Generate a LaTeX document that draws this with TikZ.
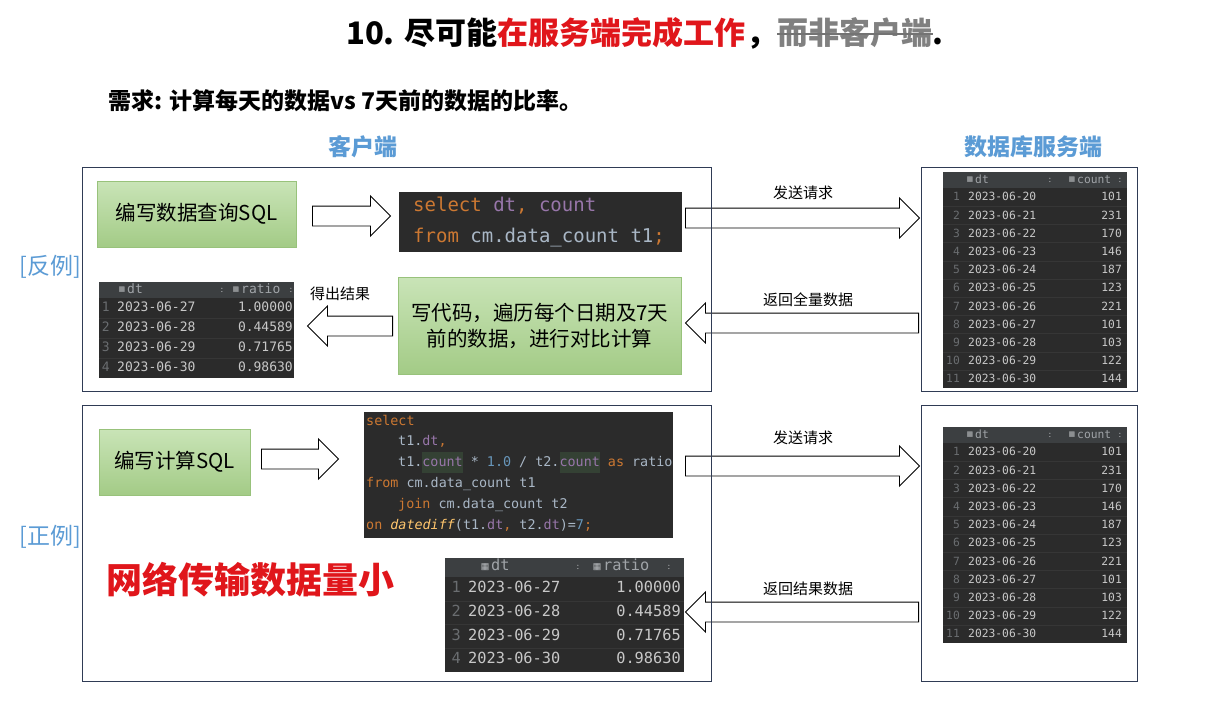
\documentclass[tikz,border=0pt]{standalone}
\usepackage{fontspec}
\setmainfont{Noto Sans CJK SC}
\newfontfamily\codefont{DejaVu Sans Mono}
\newfontfamily\iconfont{DejaVu Sans}
\usetikzlibrary{positioning, shapes.arrows}

\definecolor{frameNavy}{HTML}{2F3B55}
\definecolor{tagBlue}{HTML}{5B9BD5}
\definecolor{leafTop}{HTML}{C9E4B7}
\definecolor{leafBot}{HTML}{A3CB86}
\definecolor{leafEdge}{HTML}{98C27B}
\definecolor{alertRed}{HTML}{E0161B}
\definecolor{ideBg}{HTML}{2B2B2B}
\definecolor{ideHead}{HTML}{3C3F41}
\definecolor{ideLine}{HTML}{363636}
\definecolor{ideKey}{HTML}{CC7832}
\definecolor{ideField}{HTML}{9876AA}
\definecolor{ideText}{HTML}{A9B7C6}
\definecolor{ideNum}{HTML}{6897BB}
\definecolor{ideFunc}{HTML}{FFC66D}
\definecolor{ideMark}{HTML}{344134}
\definecolor{ideGutter}{HTML}{6A6D70}
\definecolor{cellText}{HTML}{C8C8C8}
\definecolor{headGray}{HTML}{A0A4A8}

% code colouring
\newcommand{\kw}[1]{\textcolor{ideKey}{#1}}
\newcommand{\fld}[1]{\textcolor{ideField}{#1}}
\newcommand{\hlfld}[1]{{\fboxsep=0pt\colorbox{ideMark}{\strut\textcolor{ideField}{#1}}}}
\newcommand{\nval}[1]{\textcolor{ideNum}{#1}}

\begin{document}
\begin{tikzpicture}[x=1pt, y=-1pt,
  every node/.style={inner sep=0pt},
  titleTxt/.style={font=\fontsize{31}{36}\selectfont\bfseries},
  headTxt/.style={font=\fontsize{23}{28}\selectfont\bfseries, text=tagBlue},
  tagTxt/.style={font=\fontsize{23}{28}\selectfont, text=tagBlue},
  noteTxt/.style={font=\fontsize{15}{18}\selectfont},
  frame/.style={rectangle, draw=frameNavy, line width=1.3pt},
  leaf/.style={rectangle, draw=leafEdge, top color=leafTop, bottom color=leafBot,
               align=center, font=\fontsize{20.5}{26}\selectfont},
  pane/.style={rectangle, fill=ideBg},
  fatArrow/.style={single arrow, draw=black, fill=white, line width=0.9pt,
                   inner xsep=0pt, inner ysep=9.5pt, single arrow head extend=10},
  codeA/.style={font=\codefont\fontsize{19}{24}\selectfont, text=ideText},
  codeB/.style={font=\codefont\fontsize{13.4}{20.8}\selectfont, text=ideText},
  cellS/.style={font=\codefont\fontsize{11.3}{14}\selectfont, text=cellText},
  cellA/.style={font=\codefont\fontsize{13}{16}\selectfont, text=cellText},
  cellB/.style={font=\codefont\fontsize{15.3}{18}\selectfont, text=cellText},
  gridIcon/.style={font=\iconfont\fontsize{7}{7}\selectfont, text=headGray!70},
  sepDot/.style={font=\fontsize{8}{8}\selectfont, text=headGray!60}
]
\useasboundingbox (0,0) rectangle (1221,701);
\fill[white] (0,0) rectangle (1221,701);

% title and requirement
\node[titleTxt, anchor=base west] (ttlA) at (346,45) {10. 尽可能};
\node[titleTxt, text=alertRed, anchor=base west] (ttlB) at (ttlA.base east) {在服务端完成工作};
\node[titleTxt, anchor=base west] (ttlC) at (ttlB.base east) {，};
\node[titleTxt, text=gray, anchor=base west] (ttlD) at (ttlC.base east) {而非客户端};
\node[titleTxt, anchor=base west] (ttlE) at (ttlD.base east) {.};
\draw[black!55, line width=2.4pt] ([yshift=11pt]ttlD.base west) -- ([yshift=11pt]ttlD.base east);
\node[font=\fontsize{23}{28}\selectfont\bfseries, anchor=base west] (need) at (108,109)
  {需求: 计算每天的数据vs 7天前的数据的比率。};

\node[headTxt] (cliHead) at (363,147) {客户端};
\node[headTxt] (srvHead) at (1033,147) {数据库服务端};
\node[tagTxt, anchor=east] (badTag) at (81,267) {[反例]};
\node[tagTxt, anchor=east] (goodTag) at (81,537) {[正例]};

% counter-example: client side
\node[leaf, minimum width=199, minimum height=66, anchor=north west] (askSql) at (97,181) {编写数据查询SQL};
\node[pane, minimum width=283, minimum height=60, anchor=north west] (qryA) at (399,192) {};
\node[codeA, anchor=base west] (qryA1) at (413,211.5) {\kw{select} \fld{dt}\kw{,} \fld{count}};
\node[codeA, anchor=base west] (qryA2) at (413,242.5) {\kw{from} cm.data\_count t1\kw{;}};
\node[leaf, minimum width=283, minimum height=97, anchor=north west] (loopCalc) at (398,277)
  {写代码，遍历每个日期及7天\\前的数据，进行对比计算};

\node[pane, minimum width=195, minimum height=96, anchor=north west] (resA) at (99,282) {};
\fill[ideHead] (99,282) rectangle (294,298);
\node[gridIcon] (resA-i1) at (122,290) {▦};
\node[cellA, text=headGray, anchor=mid west] (resA-h1) at (127,291) {dt};
\node[sepDot] (resA-s1) at (222,290) {:};
\node[gridIcon] (resA-i2) at (236,290) {▦};
\node[cellA, text=headGray, anchor=mid west] (resA-h2) at (241,291) {ratio};
\node[sepDot] (resA-s2) at (291,290) {:};
\foreach \k in {1,2,3} \draw[ideLine] (99,{298+20*\k}) -- (294,{298+20*\k});
\foreach \d/\v [count=\i] in {27/1.00000,28/0.44589,29/0.71765,30/0.98630} {
  \node[cellA, text=ideGutter, anchor=mid east] (resA-n\i) at (110,{298+20*(\i-0.5)+1}) {\i};
  \node[cellA, anchor=mid west] (resA-d\i) at (117,{298+20*(\i-0.5)+1}) {2023-06-\d};
  \node[cellA, anchor=mid east] (resA-v\i) at (293,{298+20*(\i-0.5)+1}) {\v};
}

% good example: client side
\node[leaf, minimum width=151, minimum height=66, anchor=north west] (askCalc) at (99,429) {编写计算SQL};
\node[pane, minimum width=309, minimum height=126, anchor=north west] (qryB) at (364,412) {};
\node[codeB, anchor=base west] (qryB1) at (366,425) {\kw{select}};
\node[codeB, anchor=base west] (qryB2) at (398,445.8) {t1.\fld{dt}\kw{,}};
\node[codeB, anchor=base west] (qryB3) at (398,466.6) {t1.\hlfld{count} * \nval{1.0} / t2.\hlfld{count} \kw{as} ratio};
\node[codeB, anchor=base west] (qryB4) at (366,487.4) {\kw{from} cm.data\_count t1};
\node[codeB, anchor=base west] (qryB5) at (398,508.2) {\kw{join} cm.data\_count t2};
\node[codeB, anchor=base west] (qryB6) at (366,529) {\kw{on} \textcolor{ideFunc}{\itshape datediff}(t1.\fld{dt}\kw{,} t2.\fld{dt})=\nval{7}\kw{;}};

\node[font=\fontsize{36}{40}\selectfont\bfseries, text=alertRed, anchor=west] (small) at (106,580) {网络传输数据量小};

\node[pane, minimum width=239, minimum height=114, anchor=north west] (resB) at (445,558) {};
\fill[ideHead] (445,558) rectangle (684,577);
\node[gridIcon, font=\iconfont\fontsize{9}{9}\selectfont] (resB-i1) at (485,567) {▦};
\node[cellB, text=headGray, anchor=mid west] (resB-h1) at (491,568) {dt};
\node[sepDot] (resB-s1) at (578,567) {:};
\node[gridIcon, font=\iconfont\fontsize{9}{9}\selectfont] (resB-i2) at (597,567) {▦};
\node[cellB, text=headGray, anchor=mid west] (resB-h2) at (603,568) {ratio};
\node[sepDot] (resB-s2) at (669,567) {:};
\foreach \k in {1,2,3} \draw[ideLine] (445,{577+23.75*\k}) -- (684,{577+23.75*\k});
\foreach \d/\v [count=\i] in {27/1.00000,28/0.44589,29/0.71765,30/0.98630} {
  \node[cellB, text=ideGutter, anchor=mid east] (resB-n\i) at (461,{577+23.75*(\i-0.5)+1}) {\i};
  \node[cellB, anchor=mid west] (resB-d\i) at (468,{577+23.75*(\i-0.5)+1}) {2023-06-\d};
  \node[cellB, anchor=mid east] (resB-v\i) at (681,{577+23.75*(\i-0.5)+1}) {\v};
}

% database tables
\foreach \tb/\top in {dbA/172, dbB/427} {
  \node[pane, minimum width=184, minimum height=216, anchor=north west] (\tb) at (943,\top) {};
  \fill[ideHead] (943,\top) rectangle (1127,{\top+16});
  \node[gridIcon] (\tb-i1) at (970,{\top+8}) {▦};
  \node[cellS, text=headGray, anchor=mid west] (\tb-h1) at (975,{\top+9}) {dt};
  \node[sepDot] (\tb-s1) at (1050,{\top+8}) {:};
  \node[gridIcon] (\tb-i2) at (1072,{\top+8}) {▦};
  \node[cellS, text=headGray, anchor=mid west] (\tb-h2) at (1077,{\top+9}) {count};
  \node[sepDot] (\tb-s2) at (1120,{\top+8}) {:};
  \foreach \k in {1,...,10} \draw[ideLine] (943,{\top+16+18.2*\k}) -- (1127,{\top+16+18.2*\k});
  \foreach \d/\c [count=\i] in {20/101,21/231,22/170,23/146,24/187,25/123,26/221,27/101,28/103,29/122,30/144} {
    \node[cellS, text=ideGutter, anchor=mid east] (\tb-n\i) at (960,{\top+16+18.2*(\i-0.5)+1}) {\i};
    \node[cellS, anchor=mid west] (\tb-d\i) at (968,{\top+16+18.2*(\i-0.5)+1}) {2023-06-\d};
    \node[cellS, anchor=mid east] (\tb-c\i) at (1122,{\top+16+18.2*(\i-0.5)+1}) {\c};
  }
}

% block arrows
\node[fatArrow, minimum height=78, anchor=tail] (arA1) at (312,216) {};
\node[fatArrow, minimum height=234, anchor=tail] (sendA) at (685,218) {};
\node[fatArrow, minimum height=233, anchor=tail, shape border rotate=180] (backA) at (919,323) {};
\node[fatArrow, minimum height=85, anchor=tail, shape border rotate=180] (outA) at (393,326) {};
\node[fatArrow, minimum height=77, anchor=tail] (arB1) at (261,459) {};
\node[fatArrow, minimum height=234, anchor=tail] (sendB) at (685,466) {};
\node[fatArrow, minimum height=233, anchor=tail, shape border rotate=180] (backB) at (919,612) {};

\node[noteTxt] (sendAlbl) at (803,193) {发送请求};
\node[noteTxt] (backAlbl) at (808,300) {返回全量数据};
\node[noteTxt] (outAlbl) at (340,294) {得出结果};
\node[noteTxt] (sendBlbl) at (803,438) {发送请求};
\node[noteTxt] (backBlbl) at (808,589) {返回结果数据};

% frames on top
\node[frame, minimum width=629, minimum height=224, anchor=north west] (cliBad) at (82,167) {};
\node[frame, minimum width=629, minimum height=276, anchor=north west] (cliGood) at (82,405) {};
\node[frame, minimum width=216, minimum height=224, anchor=north west] (srvBad) at (921,167) {};
\node[frame, minimum width=216, minimum height=276, anchor=north west] (srvGood) at (921,405) {};
\end{tikzpicture}
\end{document}
